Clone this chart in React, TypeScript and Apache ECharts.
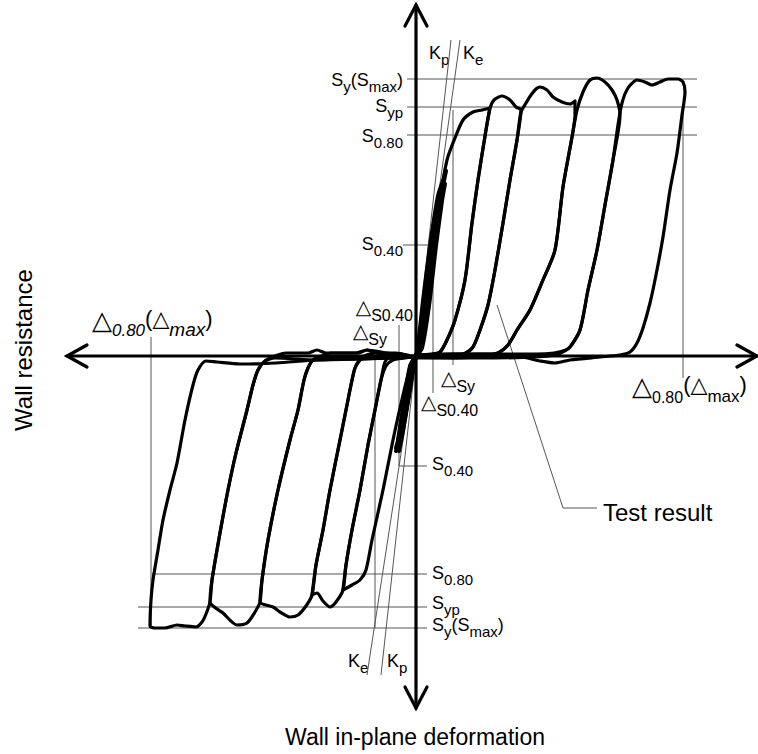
import React, { useEffect, useRef } from "react";
import * as echarts from "echarts";

// Chart extents (deformation on x, resistance on y), arbitrary units
const X_MIN = -416, X_MAX = 342, Y_MIN = -398, Y_MAX = 356;

// Characteristic resistance levels: Sy(Smax), Syp, S0.80, S0.40
const posLevels = [277, 249, 221, 111];
const negLevels = [-272, -251, -218, -110];
// Characteristic deformations: Δ0.80(Δmax), ΔSy, ΔS0.40
const posDeltas = [267, 37, 17];
const negDeltas = [-265, -41, -17];
// Stiffness line end points (Kp, Ke)
const kpPos = [35, 316];
const kePos = [44, 316];
const kpNeg = [-35, -319];
const keNeg = [-49, -319];
// Leader of "Test result"
const leader = [[81, 51], [147, -152], [181, -152]];

// Hysteresis loops (test result)
const loopA1 = [[0,0],[3,6],[8,40],[14,90],[19,130],[21,140],[17,120],[11,80],[5,30],[1,4],[0,0],[-3,-6],[-8,-40],[-14,-80],[-17,-95],[-13,-75],[-7,-40],[-2,-8],[0,0]];
const loopA2 = [[0,0],[5,8],[11,50],[18,110],[25,160],[30,185],[26,170],[18,120],[10,60],[4,14],[0,0],[-4,-8],[-10,-45],[-16,-80],[-20,-95],[-16,-85],[-9,-50],[-3,-12],[0,0]];
const loopA3 = [[0,0],[6,8],[13,50],[20,110],[26,155],[29,172],[24,150],[16,100],[8,40],[3,8],[0,0],[-5,-8],[-12,-50],[-17,-80],[-20,-92],[-15,-75],[-8,-40],[-2,-8],[0,0]];
const loopA4 = [[0,0],[4,10],[9,45],[15,100],[22,150],[27,175],[22,160],[14,110],[7,55],[2,10],[0,0],[-6,-10],[-11,-40],[-15,-65],[-18,-84],[-14,-72],[-9,-48],[-4,-20],[0,0]];
const loopB = [[0,0],[2,2],[7,16],[12,46],[18,106],[24,156],[31,196],[39,218],[47,236],[57,244],[66,246],[74,248],[70,226],[62,176],[56,133],[49,76],[39,36],[31,16],[24,4],[14,0],[0,-1],[-2,-2],[-6,-12],[-13,-39],[-23,-84],[-33,-134],[-44,-184],[-50,-214],[-56,-224],[-64,-229],[-73,-234],[-70,-209],[-64,-174],[-56,-134],[-48,-89],[-41,-54],[-35,-24],[-30,-10],[-23,-4],[-11,-2],[0,0]];
const loopC = [[0,1],[16,2],[24,4],[31,16],[39,36],[49,76],[56,133],[62,176],[70,226],[74,248],[78,256],[86,260],[94,256],[100,249],[105,246],[101,216],[94,176],[87,133],[79,86],[72,51],[64,26],[57,9],[47,2],[30,-1],[0,-2],[-15,2],[-25,1],[-31,-6],[-35,-24],[-41,-54],[-48,-89],[-56,-134],[-64,-174],[-70,-209],[-73,-234],[-80,-246],[-86,-251],[-93,-245],[-99,-237],[-104,-239],[-100,-209],[-93,-174],[-86,-134],[-76,-84],[-70,-54],[-65,-29],[-61,-12],[-56,-4],[-46,-2],[-20,-2],[0,0]];
const loopD = [[0,1],[30,2],[47,2],[52,4],[57,9],[64,26],[72,51],[79,86],[87,133],[94,176],[101,216],[105,244],[110,253],[115,261],[120,267],[124,269],[131,266],[137,259],[146,254],[154,252],[159,255],[159,241],[156,219],[147,169],[139,106],[127,76],[114,46],[101,26],[92,11],[82,3],[60,-1],[30,-2],[0,-1],[-20,3],[-40,3],[-52,0],[-56,-4],[-61,-12],[-65,-29],[-70,-54],[-76,-84],[-86,-134],[-93,-174],[-100,-209],[-104,-239],[-110,-250],[-118,-259],[-126,-261],[-136,-256],[-143,-251],[-156,-246],[-154,-224],[-148,-184],[-138,-134],[-126,-84],[-118,-54],[-112,-24],[-108,-12],[-103,-4],[-94,-2],[-60,-3],[0,-1]];
const loopE = [[0,1],[40,2],[76,2],[82,3],[92,11],[101,26],[114,46],[127,76],[139,106],[147,169],[156,219],[161,246],[167,264],[174,276],[181,278],[189,274],[196,266],[201,256],[204,241],[197,196],[189,151],[181,106],[172,66],[164,26],[154,9],[142,2],[120,-1],[60,-2],[0,-1],[-30,3],[-49,6],[-60,3],[-85,3],[-94,0],[-103,-4],[-108,-12],[-112,-24],[-118,-54],[-126,-84],[-138,-134],[-148,-184],[-154,-224],[-156,-246],[-161,-256],[-169,-267],[-179,-269],[-193,-257],[-206,-246],[-204,-224],[-196,-177],[-188,-134],[-180,-97],[-169,-54],[-163,-29],[-158,-14],[-151,-5],[-141,-2],[-100,-4],[0,-1]];
const loopF = [[0,1],[60,2],[120,2],[138,3],[150,6],[154,9],[164,26],[172,66],[181,106],[189,151],[197,196],[202,231],[206,253],[212,268],[221,276],[229,274],[236,271],[244,274],[252,277],[262,277],[267,274],[269,264],[266,241],[261,203],[254,166],[247,119],[240,81],[234,53],[227,28],[221,13],[214,4],[204,1],[184,-1],[154,-4],[139,-7],[124,-5],[104,-1],[0,-1],[-40,3],[-49,6],[-58,3],[-90,3],[-99,6],[-108,3],[-130,3],[-141,0],[-151,-5],[-158,-14],[-163,-29],[-169,-54],[-180,-97],[-188,-134],[-196,-177],[-204,-224],[-206,-246],[-210,-258],[-214,-266],[-220,-271],[-231,-270],[-239,-269],[-251,-272],[-261,-272],[-266,-270],[-265,-244],[-263,-224],[-258,-194],[-253,-164],[-246,-134],[-239,-107],[-231,-64],[-223,-29],[-218,-14],[-210,-5],[-199,-6],[-176,-8],[-140,-7],[-100,-4],[0,0]];
const smallLoops = [loopA1, loopA2, loopA3, loopA4];
const bigLoops = [loopB, loopC, loopD, loopE, loopF];

// Axis lines and arrow heads
const axisLines = [
  [[-349, 0], [341, 0]],
  [[0, 351], [0, -352]],
  [[-329, 11], [-349, 0], [-329, -11]],
  [[321, 11], [341, 0], [321, -11]],
  [[-11, 330], [0, 351], [11, 330]],
  [[-11, -331], [0, -352], [11, -331]],
];

const FONT = "'Liberation Sans', Arial, Helvetica, sans-serif";
const TRI = "'DejaVu Sans', sans-serif";

function buildRefSegments() {
  return [
    [[-9, posLevels[0]], [281, posLevels[0]]],
    [[-9, posLevels[1]], [281, posLevels[1]]],
    [[-9, posLevels[2]], [281, posLevels[2]]],
    [[-13, posLevels[3]], [14, posLevels[3]]],
    [[posDeltas[0], 246], [posDeltas[0], -22]],
    [[posDeltas[1], 246], [posDeltas[1], -9]],
    [[posDeltas[2], posLevels[3]], [posDeltas[2], -37]],
    [[0, 0], kpPos],
    [[0, 0], kePos],
    [[-278, negLevels[0]], [11, negLevels[0]]],
    [[-278, negLevels[1]], [11, negLevels[1]]],
    [[-264, negLevels[2]], [11, negLevels[2]]],
    [[negDeltas[2], negLevels[3]], [11, negLevels[3]]],
    [[negDeltas[0], 19], [negDeltas[0], negLevels[0]]],
    [[negDeltas[1], -4], [negDeltas[1], negLevels[0]]],
    [[negDeltas[2], 31], [negDeltas[2], negLevels[3]]],
    [[0, 0], kpNeg],
    [[0, 0], keNeg],
    leader,
  ];
}

const richStyles = {
  m: { fontSize: 18, fontFamily: FONT, lineHeight: 23, verticalAlign: "top", fill: "#000" },
  s: { fontSize: 15, fontFamily: FONT, verticalAlign: "bottom", fill: "#000" },
  t: { fontSize: 20, fontFamily: TRI, lineHeight: 26, verticalAlign: "top", fill: "#000" },
  ts: { fontSize: 16, fontFamily: FONT, verticalAlign: "bottom", fill: "#000" },
  T: { fontSize: 26, fontFamily: TRI, lineHeight: 32, verticalAlign: "top", fill: "#000" },
  si: { fontSize: 17, fontFamily: FONT, fontStyle: "italic", verticalAlign: "bottom", fill: "#000" },
  sm: { fontSize: 19, fontFamily: FONT, fontStyle: "italic", verticalAlign: "bottom", fill: "#000" },
  p: { fontSize: 22, fontFamily: FONT, verticalAlign: "top", fill: "#000" },
  t2: { fontSize: 22, fontFamily: TRI, verticalAlign: "top", fill: "#000" },
  rs: { fontSize: 16, fontFamily: FONT, verticalAlign: "bottom", fill: "#000" },
  rm: { fontSize: 17, fontFamily: FONT, verticalAlign: "bottom", fill: "#000" },
};

function rt(x: number, y: number, text: string, align: string) {
  return {
    type: "text",
    x,
    y,
    silent: true,
    style: {
      text,
      rich: richStyles,
      align,
      textAlign: align,
      verticalAlign: "middle",
      textVerticalAlign: "middle",
      fill: "#000",
      fontFamily: FONT,
      fontSize: 18,
    },
  };
}

function pt(x: number, y: number, text: string, size: number, align: string, rotation = 0) {
  return {
    type: "text",
    x,
    y,
    rotation,
    silent: true,
    style: {
      text,
      fontSize: size,
      fontFamily: FONT,
      fill: "#000",
      align,
      textAlign: align,
      verticalAlign: "middle",
      textVerticalAlign: "middle",
    },
  };
}

export default function App() {
  const ref = useRef<HTMLDivElement>(null);
  useEffect(() => {
    if (!ref.current) return;
    const chart = echarts.init(ref.current, undefined, { renderer: "svg" });
    const series: any[] = [];
    buildRefSegments().forEach((seg) => {
      series.push({
        type: "line", data: seg, symbol: "none", silent: true, z: 2,
        lineStyle: { color: "#555", width: 1 },
      });
    });
    smallLoops.forEach((lp) => {
      series.push({
        type: "line", data: lp, symbol: "none", silent: true, smooth: 0.25, z: 4,
        lineStyle: { color: "#000", width: 4, cap: "round", join: "round" },
      });
    });
    bigLoops.forEach((lp) => {
      series.push({
        type: "line", data: lp, symbol: "none", silent: true, smooth: 0.25, z: 4,
        lineStyle: { color: "#000", width: 3.2, cap: "round", join: "round" },
      });
    });
    axisLines.forEach((seg) => {
      series.push({
        type: "line", data: seg, symbol: "none", silent: true, z: 5,
        lineStyle: { color: "#000", width: 3.2, cap: "round", join: "miter" },
      });
    });

    const graphics: any[] = [
      // positive side level labels
      rt(403, 82, "{m|S}{s|y}{m|(S}{s|max}{m|)}", "right"),
      rt(403, 108, "{m|S}{s|yp}", "right"),
      rt(403, 138, "{m|S}{s|0.80}", "right"),
      rt(403, 246, "{m|S}{s|0.40}", "right"),
      // negative side level labels
      rt(432, 466, "{m|S}{s|0.40}", "left"),
      rt(432, 575, "{m|S}{s|0.80}", "left"),
      rt(432, 605, "{m|S}{s|yp}", "left"),
      rt(432, 627, "{m|S}{s|y}{m|(S}{s|max}{m|)}", "left"),
      // stiffness labels
      rt(429, 55, "{m|K}{s|p}", "left"),
      rt(463, 55, "{m|K}{s|e}", "left"),
      rt(348, 663, "{m|K}{s|e}", "left"),
      rt(387, 663, "{m|K}{s|p}", "left"),
      // deformation labels
      rt(413, 310, "{t|△}{ts|S0.40}", "right"),
      rt(387, 334, "{t|△}{ts|Sy}", "right"),
      rt(441, 381, "{t|△}{ts|Sy}", "left"),
      rt(421, 405, "{t|△}{ts|S0.40}", "left"),
      rt(92, 323, "{T|△}{si|0.80}{p|(}{t2|△}{sm|max}{p|)}", "left"),
      rt(632, 389, "{T|△}{rs|0.80}{p|(}{t2|△}{rm|max}{p|)}", "left"),
      // titles
      pt(603, 512, "Test result", 24, "left"),
      pt(415, 737, "Wall in-plane deformation", 23, "center"),
      pt(23, 350, "Wall resistance", 24, "center", Math.PI / 2),
    ];

    chart.setOption({
      animation: false,
      backgroundColor: "#fff",
      grid: { left: 0, right: 0, top: 0, bottom: 0, containLabel: false },
      xAxis: { type: "value", min: X_MIN, max: X_MAX, show: false },
      yAxis: { type: "value", min: Y_MIN, max: Y_MAX, show: false },
      series,
      graphic: graphics,
    });
    return () => chart.dispose();
  }, []);
  return (
    <div
      ref={ref}
      style={{ position: "fixed", left: 0, top: 0, width: 758, height: 754, background: "#fff" }}
    />
  );
}
